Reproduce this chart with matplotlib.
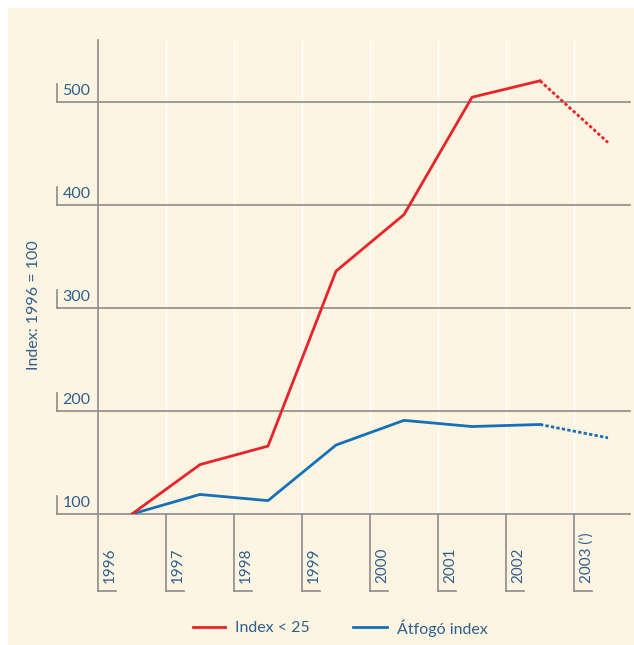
import matplotlib.pyplot as plt
from matplotlib.patches import Rectangle

# Data
years = ['1996', '1997', '1998', '1999', '2000', '2001', '2002', "2003 (')"]
index_25 = [100, 148, 166, 336, 391, 505, 521, 461]
atfogo = [100, 119, 113, 167, 191, 185, 187, 174]
yticks = [100, 200, 300, 400, 500]

RED = '#e8232a'
BLUE = '#1570b8'
GRID = '#8c8c8c'
TXT = '#2d5f8f'
CREAM = '#fdf5e1'

plt.rcParams['font.family'] = ['Lato', 'DejaVu Sans']

W, H = 634, 645
fig = plt.figure(figsize=(W / 100, H / 100), dpi=100)
fig.patches.append(Rectangle((8 / W, 0), 1, 1 - 8 / H, transform=fig.transFigure,
                             facecolor=CREAM, edgecolor='none', zorder=-10))

# axes: category i spans [i, i+1], 68 px per category
left_px, right_px, bot_px, top_px = 98, 630, 514, 40
ax = fig.add_axes([left_px / W, 1 - bot_px / H, (right_px - left_px) / W, (bot_px - top_px) / H])
ax.patch.set_alpha(0)
px_x = 68.0
px_y = 1.029
ax.set_xlim(0, (right_px - left_px) / px_x)
ax.set_ylim(100, 100 + (bot_px - top_px) / px_y)
for s in ax.spines.values():
    s.set_visible(False)
ax.set_xticks([])
ax.set_yticks([])

n = len(years)
xs = [i + 0.5 for i in range(n)]

# white category separators
for i in range(1, n):
    ax.axvline(i, color='white', lw=1.0, zorder=1)

# y axis line (continues down as the first year tick)
ybot = 100 - 77 / px_y
ax.plot([0, 0], [ax.get_ylim()[1], ybot], color=GRID, lw=1.2, clip_on=False, zorder=2)

# horizontal grid + y tick labels
xl = -(left_px - 56.5) / px_x
for v in yticks:
    ax.plot([xl, ax.get_xlim()[1]], [v, v], color=GRID, lw=1.2, clip_on=False, zorder=2)
    ax.plot([xl, xl], [v, v + 18 / px_y], color=GRID, lw=1.2, clip_on=False, zorder=2)
    ax.text(xl + 6 / px_x, v + 4 / px_y, str(v), color=TXT, fontsize=11.5,
            ha='left', va='bottom', clip_on=False)

# year ticks (L shapes) below axis
for i, yr in enumerate(years):
    if i > 0:
        ax.plot([i, i], [100, ybot], color=GRID, lw=1.2, clip_on=False, zorder=2)
    ax.plot([i, i + 18 / px_x], [ybot, ybot], color=GRID, lw=1.2, clip_on=False, zorder=2)
    ax.text(i + 5 / px_x, ybot + 8 / px_y, yr, rotation=90, color=TXT, fontsize=11,
            ha='left', va='bottom', clip_on=False)

# series: solid until 2002, dashed to 2003
ax.plot(xs[:-1], index_25[:-1], color=RED, lw=2, zorder=4)
ax.plot(xs[-2:], index_25[-2:], color=RED, lw=2, ls=(0, (1.2, 0.8)), zorder=4)
ax.plot(xs[:-1], atfogo[:-1], color=BLUE, lw=2, zorder=3)
ax.plot(xs[-2:], atfogo[-2:], color=BLUE, lw=2, ls=(0, (1.2, 0.8)), zorder=3)

ax.set_ylabel('Index: 1996 = 100', color=TXT, fontsize=11.5)
ax.yaxis.set_label_coords(-(98 - 41) / (right_px - left_px), 0.44)

# legend
ly = 1 - 627 / H
fig.add_artist(plt.Line2D([193 / W, 225 / W], [ly, ly], color=RED, lw=2))
fig.text(235 / W, ly, 'Index < 25', color=TXT, fontsize=11.5, va='center_baseline')
fig.add_artist(plt.Line2D([353 / W, 387 / W], [ly, ly], color=BLUE, lw=2))
fig.text(397 / W, ly, 'Átfogó index', color=TXT, fontsize=11.5, va='center_baseline')

fig.savefig('out.png', dpi=100, facecolor='white')
